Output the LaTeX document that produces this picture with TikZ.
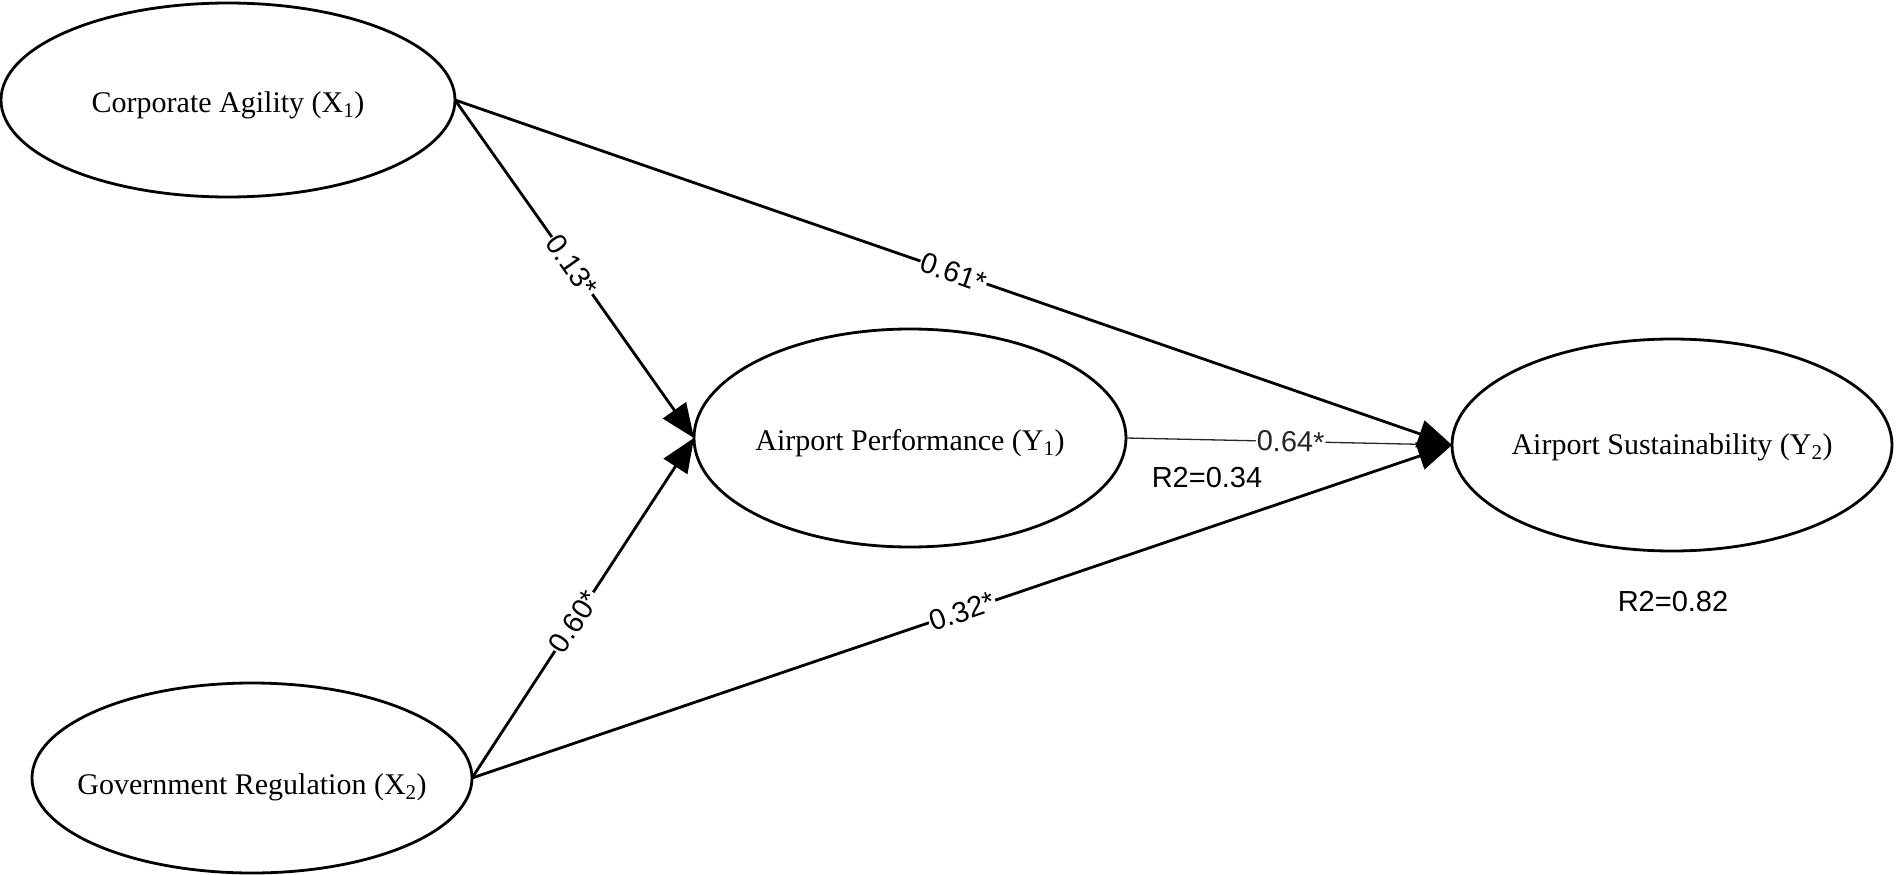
\documentclass[tikz,border=0pt]{standalone}
\usepackage{fontspec}
\setmainfont{Liberation Serif}
\setsansfont{Liberation Sans}
\usetikzlibrary{shapes.geometric,arrows.meta}
\tikzset{
  latent/.style={ellipse, draw, line width=2.8pt, inner sep=0pt, outer sep=0pt},
  lvtext/.style={font=\fontsize{30}{36}\selectfont\rmfamily, inner sep=0pt},
  path/.style={line width=2.8pt, -{Triangle[length=34pt,width=28pt]}},
  thinpath/.style={line width=1.3pt, black!85},
  coef/.style={fill=white, inner sep=1pt, sloped, font=\fontsize{29}{34}\selectfont\sffamily},
  rsq/.style={font=\fontsize{29}{34}\selectfont\sffamily, inner sep=0pt}
}
\begin{document}
\begin{tikzpicture}[x=1pt,y=-1pt]
\useasboundingbox (0,0) rectangle (1896,875);
\node[latent, minimum width=454pt, minimum height=194pt,
  label={[lvtext, yshift=-5pt]center:Corporate Agility (X\textsubscript{1})}] (CA) at (228,100) {};
\node[latent, minimum width=440pt, minimum height=190pt,
  label={[lvtext, yshift=-9pt]center:Government Regulation (X\textsubscript{2})}] (GR) at (252,778) {};
\node[latent, minimum width=432pt, minimum height=218pt,
  label={[lvtext, yshift=-5pt]center:Airport Performance (Y\textsubscript{1})}] (AP) at (910,438) {};
\node[latent, minimum width=440pt, minimum height=212pt,
  label={[lvtext, yshift=-2pt]center:Airport Sustainability (Y\textsubscript{2})}] (AS) at (1672,445) {};

\draw[thinpath, shorten >=19pt] (AP.east) -- node[coef, pos=0.505] {0.64*} (AS.west);
\draw[path] (CA.east) -- node[coef, pos=0.49] {0.13*} (AP.west);
\draw[path] (CA.east) -- node[coef, pos=0.5] {0.61*} (AS.west);
\draw[path] (GR.east) -- node[coef, pos=0.46] {0.60*} (AP.west);
\draw[path] (GR.east) -- node[coef, pos=0.5] {0.32*} (AS.west);

\node[rsq] (r1) at (1207,478) {R2=0.34};
\node[rsq] (r2) at (1673,602) {R2=0.82};
\end{tikzpicture}
\end{document}
